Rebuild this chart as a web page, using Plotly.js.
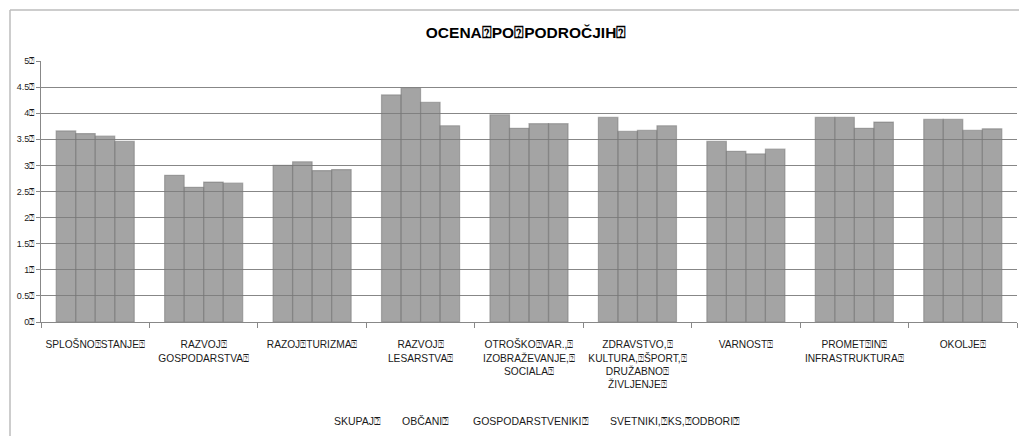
<!DOCTYPE html>
<html>
<head>
<meta charset="utf-8">
<script src="https://cdn.plot.ly/plotly-3.0.1.min.js"></script>
<style>
  html, body { margin: 0; padding: 0; background: #fff; }
  #chart { width: 1019px; height: 436px; }
</style>
</head>
<body>
<div id="chart"></div>
<script>
const B = "\u2370";
const categories = [
  "SPLOŠNO" + B + "STANJE" + B,
  "RAZVOJ" + B + "<br>GOSPODARSTVA" + B,
  "RAZOJ" + B + "TURIZMA" + B,
  "RAZVOJ" + B + "<br>LESARSTVA" + B,
  "OTROŠKO" + B + "VAR.," + B + "<br>IZOBRAŽEVANJE," + B + "<br>SOCIALA" + B,
  "ZDRAVSTVO," + B + "<br>KULTURA," + B + "ŠPORT," + B + "<br>DRUŽABNO" + B + "<br>ŽIVLJENJE" + B,
  "VARNOST" + B,
  "PROMET" + B + "IN" + B + "<br>INFRASTRUKTURA" + B,
  "OKOLJE" + B
];
const seriesNames = ["SKUPAJ" + B, "OBČANI" + B, "GOSPODARSTVENIKI" + B, "SVETNIKI," + B + "KS," + B + "ODBORI" + B];
const skupaj           = [3.66, 2.81, 3.00, 4.35, 3.97, 3.92, 3.46, 3.92, 3.88];
const obcani           = [3.61, 2.58, 3.07, 4.48, 3.71, 3.65, 3.27, 3.92, 3.88];
const gospodarstveniki = [3.56, 2.68, 2.90, 4.21, 3.80, 3.67, 3.22, 3.71, 3.67];
const svetniki         = [3.46, 2.66, 2.92, 3.76, 3.80, 3.76, 3.31, 3.83, 3.70];
const yTickVals = [0, 0.5, 1, 1.5, 2, 2.5, 3, 3.5, 4, 4.5, 5];
const yTickText = ["0", "0.5", "1", "1.5", "2", "2.5", "3", "3.5", "4", "4.5", "5"].map(t => t + B);
const titleText = "OCENA" + B + "PO" + B + "PODROČJIH" + B;

const series = [skupaj, obcani, gospodarstveniki, svetniki];
const traces = series.map((vals, i) => ({
  type: "bar",
  name: seriesNames[i],
  x: categories,
  y: vals,
  marker: { color: "rgba(125,125,125,0.70)", line: { color: "rgba(120,120,120,0.55)", width: 1.2 } },
  hoverinfo: "y+name"
}));

const font = "Liberation Sans, Arial, sans-serif";
const legendX = [332, 400, 471, 608];
const annotations = seriesNames.map((n, i) => ({
  text: n, xref: "paper", yref: "paper",
  x: (legendX[i] - 41) / 976, y: (322 - 421) / 261,
  xanchor: "left", yanchor: "middle", showarrow: false,
  font: { family: font, size: 10.5, color: "#1a1a1a" }
}));

const layout = {
  width: 1019, height: 436,
  margin: { l: 41, r: 2, t: 61, b: 114 },
  paper_bgcolor: "#ffffff", plot_bgcolor: "#ffffff",
  showlegend: false,
  barmode: "group", bargap: 0.28, bargroupgap: 0,
  title: { text: "<b>" + titleText + "</b>", x: 0.497, xref: "paper", y: 1 - 33 / 436, yanchor: "middle",
           font: { family: font, size: 15.5, color: "#000" } },
  xaxis: {
    type: "category", tickson: "boundaries", ticks: "outside", ticklen: 5, tickcolor: "#888",
    showline: true, linecolor: "#888", linewidth: 1, showgrid: false,
    ticklabelstandoff: 13,
    tickfont: { family: font, size: 10.2, color: "#1a1a1a" }, tickangle: 0, automargin: false
  },
  yaxis: {
    range: [0, 5], tickvals: yTickVals, ticktext: yTickText,
    ticks: "outside", ticklen: 4, tickcolor: "#888",
    showline: true, linecolor: "#888", linewidth: 1,
    showgrid: true, gridcolor: "#878787", gridwidth: 1, zeroline: false,
    tickfont: { family: font, size: 9, color: "#1a1a1a" }, automargin: false
  },
  annotations: annotations,
  shapes: [
    { type: "line", xref: "paper", yref: "paper", x0: -31 / 976, x1: -31 / 976, y0: (322 - 10) / 261, y1: (322 - 440) / 261,
      line: { color: "#bcbcbc", width: 1.5 } },
    { type: "line", xref: "paper", yref: "paper", x0: -31 / 976, x1: 1 + 2 / 976, y0: (322 - 10) / 261, y1: (322 - 10) / 261,
      line: { color: "#bcbcbc", width: 1.5 } }
  ]
};

Plotly.newPlot("chart", traces, layout, { displayModeBar: false, staticPlot: true });
</script>
</body>
</html>
